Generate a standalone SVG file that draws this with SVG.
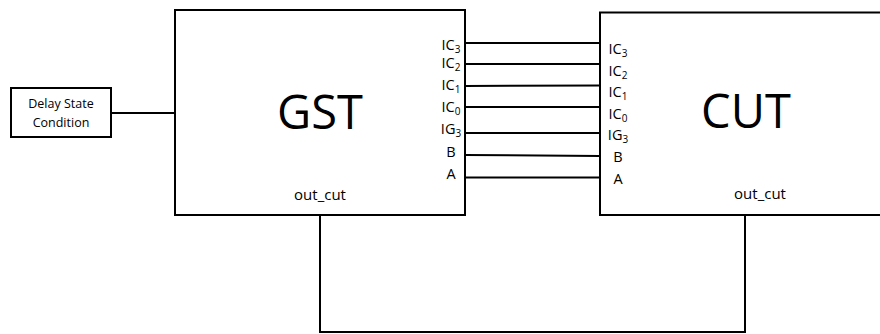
<svg xmlns="http://www.w3.org/2000/svg" width="880" height="334" viewBox="0 0 880 334">
<style>
.box{fill:#fff;stroke:#000;stroke-width:2}
.wire{fill:none;stroke:#000;stroke-width:2}
text{font-family:"Open Sans","Liberation Sans",sans-serif;fill:#000}
.big{font-size:47px;text-anchor:middle}
.pin{font-size:14.5px;text-anchor:middle}
.sub{font-size:10px}
.small{font-size:12.5px;text-anchor:middle}
.out{font-size:15px;text-anchor:middle}
</style>
<rect width="880" height="334" fill="#fff"/>
<g id="connectors">
<line class="wire" x1="111" y1="113" x2="175" y2="113"/>
<line class="wire" x1="465" y1="43" x2="600" y2="43"/>
<line class="wire" x1="465" y1="64" x2="600" y2="64"/>
<line class="wire" x1="465" y1="86" x2="600" y2="85.5"/>
<line class="wire" x1="465" y1="107" x2="600" y2="107"/>
<line class="wire" x1="465" y1="133" x2="600" y2="133"/>
<line class="wire" x1="465" y1="155" x2="600" y2="156"/>
<line class="wire" x1="465" y1="177.5" x2="600" y2="177.5"/>
<path class="wire" d="M320 215 V332 H745 V215"/>
</g>
<g id="delay">
<rect class="box" x="11" y="88" width="100" height="49"/>
<text class="small" x="61" y="108">Delay State</text>
<text class="small" x="61" y="127">Condition</text>
</g>
<g id="gst">
<rect class="box" x="175" y="10" width="290" height="205"/>
<text class="big" x="320" y="129">GST</text>
<text class="pin" x="451" y="50">IC<tspan class="sub" dy="3">3</tspan></text>
<text class="pin" x="451" y="68">IC<tspan class="sub" dy="3">2</tspan></text>
<text class="pin" x="451" y="90">IC<tspan class="sub" dy="3">1</tspan></text>
<text class="pin" x="451" y="112">IC<tspan class="sub" dy="3">0</tspan></text>
<text class="pin" x="451" y="134">IG<tspan class="sub" dy="3">3</tspan></text>
<text class="pin" x="451" y="157">B</text>
<text class="pin" x="451" y="179">A</text>
<text class="out" x="320" y="200">out_cut</text>
</g>
<g id="cut">
<rect class="box" x="600" y="12.5" width="290" height="202.5"/>
<text class="big" x="746" y="128">CUT</text>
<text class="pin" x="618" y="54">IC<tspan class="sub" dy="3">3</tspan></text>
<text class="pin" x="618" y="76">IC<tspan class="sub" dy="3">2</tspan></text>
<text class="pin" x="618" y="97">IC<tspan class="sub" dy="3">1</tspan></text>
<text class="pin" x="618" y="119">IC<tspan class="sub" dy="3">0</tspan></text>
<text class="pin" x="618" y="140">IG<tspan class="sub" dy="3">3</tspan></text>
<text class="pin" x="618" y="162">B</text>
<text class="pin" x="618" y="184">A</text>
<text class="out" x="760" y="199">out_cut</text>
</g>
</svg>
